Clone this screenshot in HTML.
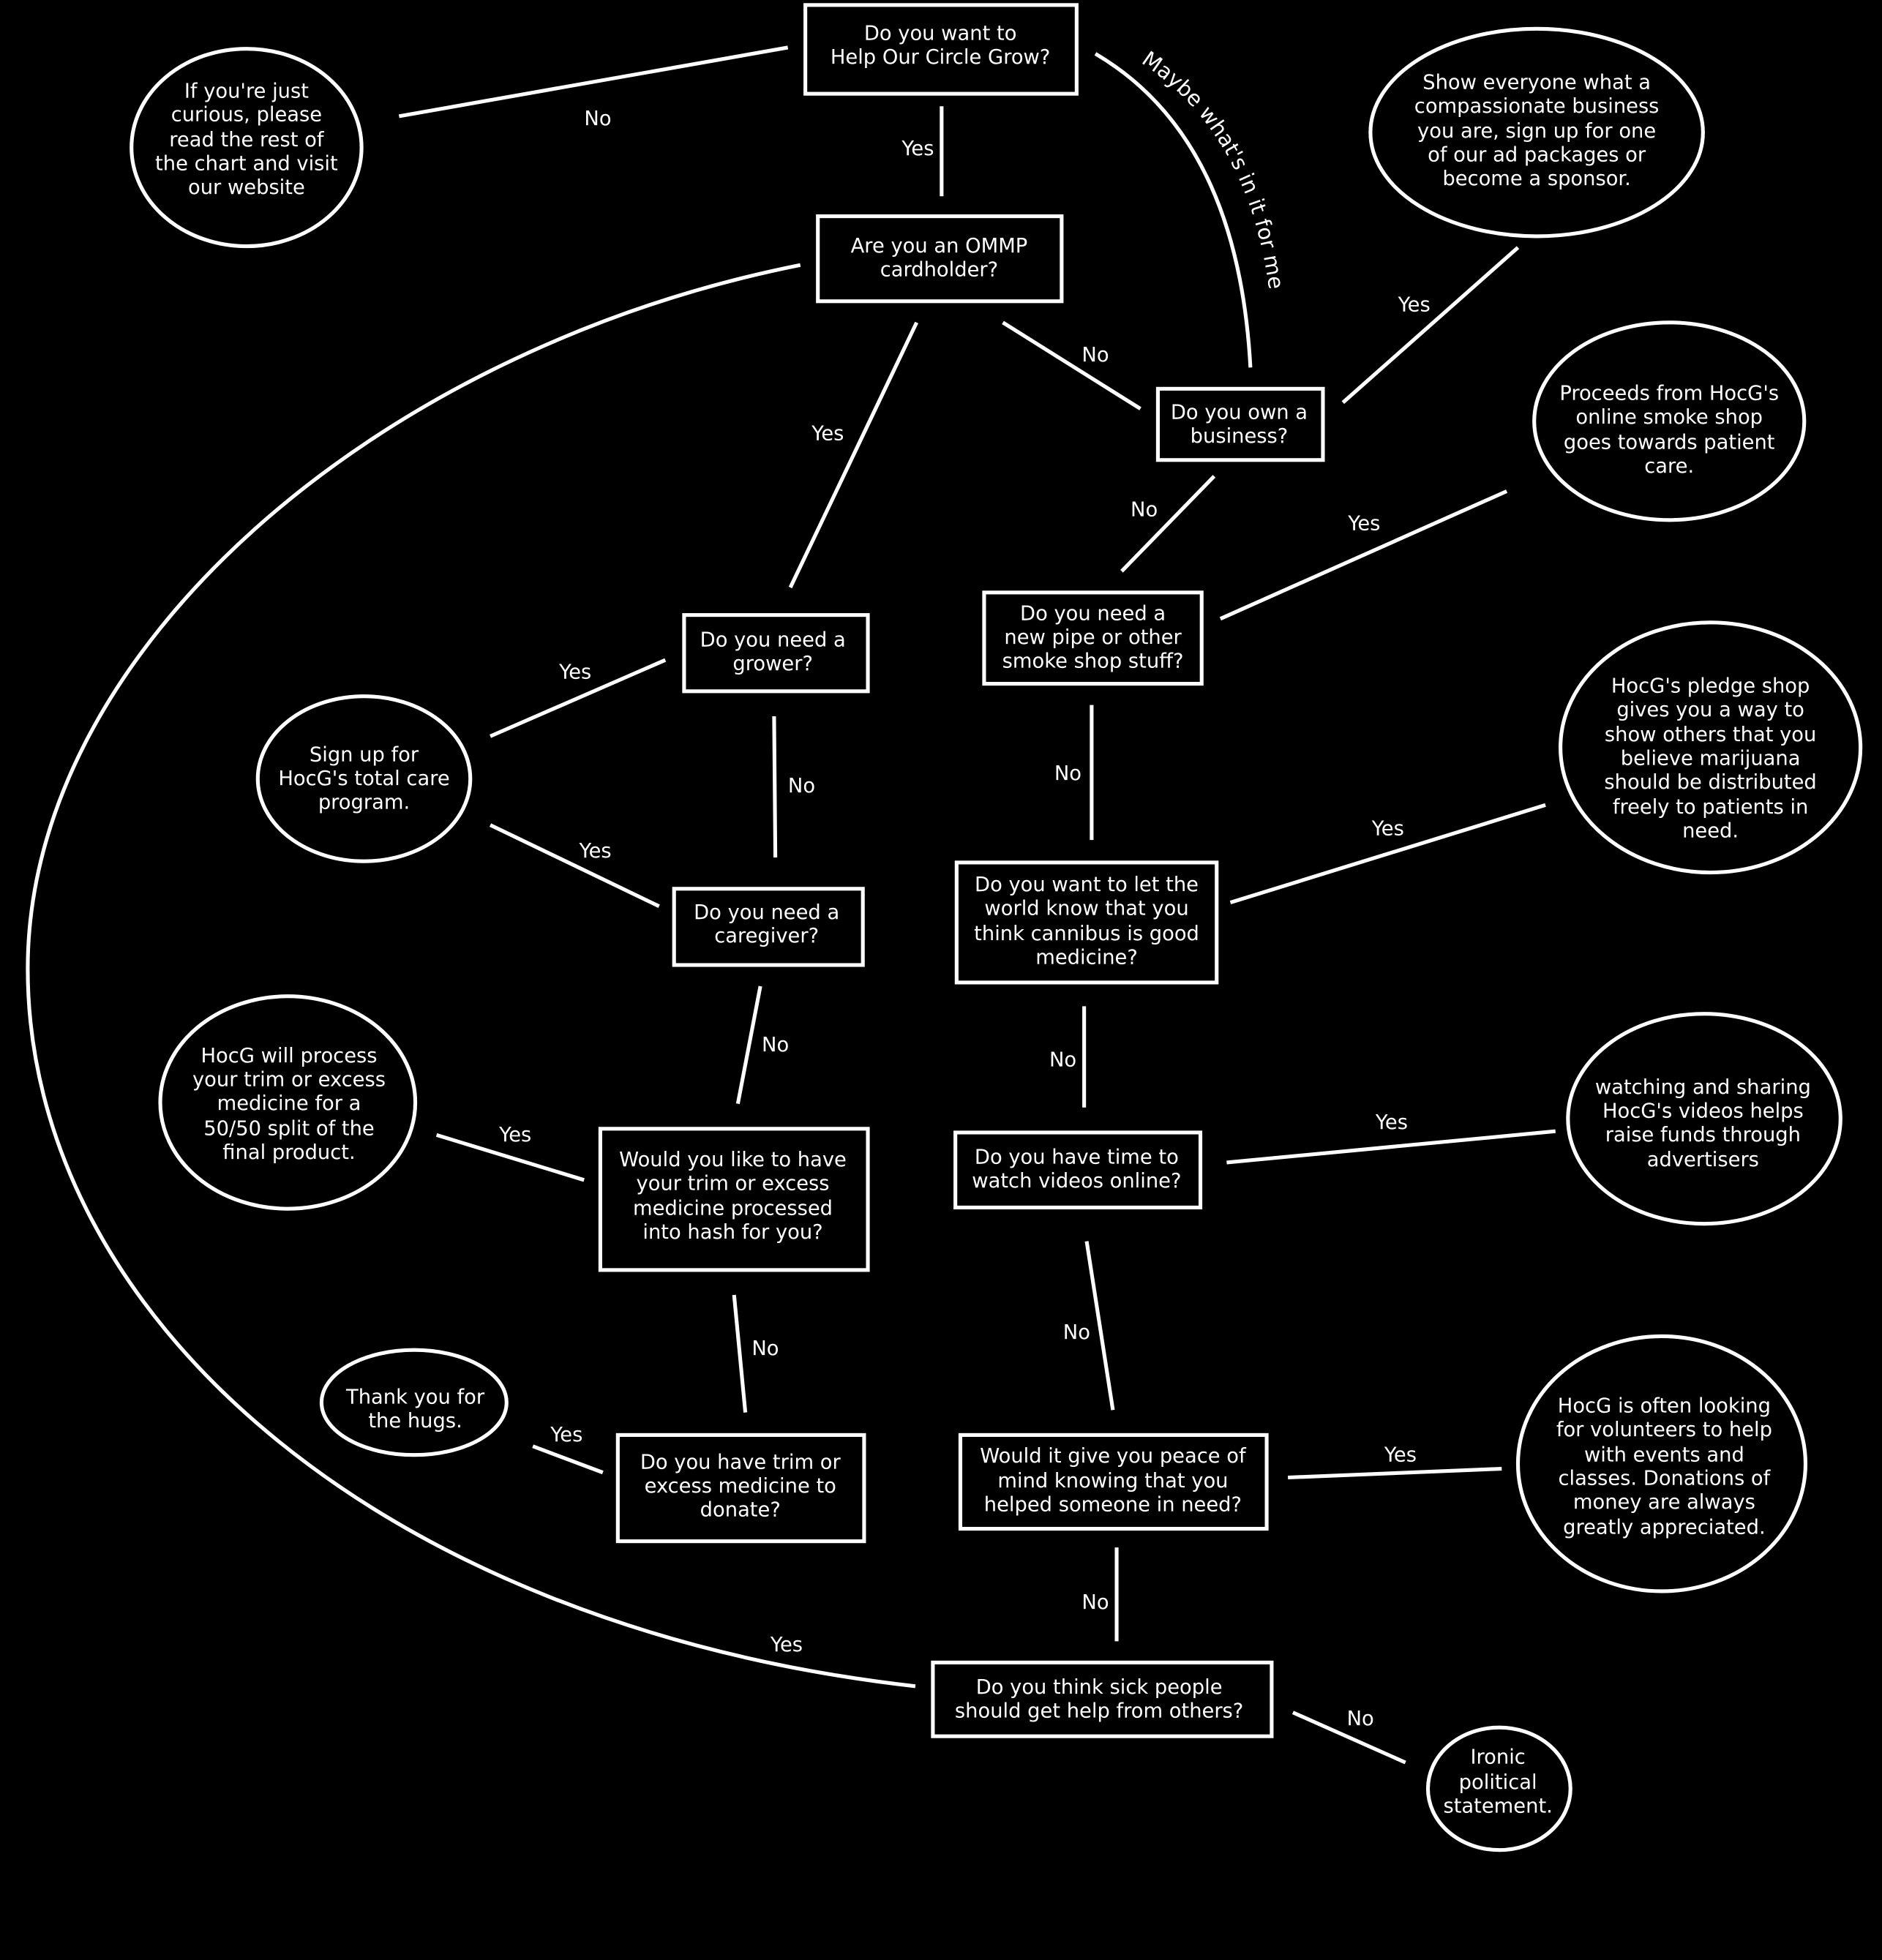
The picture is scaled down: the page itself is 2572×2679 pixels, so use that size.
<!DOCTYPE html>
<html><head><meta charset="utf-8"><style>
html,body{margin:0;padding:0;background:#000;}
svg{display:block;}
text{font-family:"DejaVu Sans","Liberation Sans",sans-serif;font-size:16px;fill:#fff;}
</style></head><body>
<svg width="2572" height="2679" viewBox="0 0 1505 1568" xmlns="http://www.w3.org/2000/svg">
<rect x="0" y="0" width="1505" height="1568" fill="#000"/>
<path id="maybetext" d="M912,50 Q1008,112 1018,262" fill="none" stroke="none"/>
<g stroke="#fff" stroke-width="3" fill="none">
<rect x="644" y="4" width="217" height="71"/>
<rect x="654" y="173" width="195" height="68"/>
<rect x="926" y="311" width="132" height="57"/>
<rect x="547" y="492" width="147" height="61"/>
<rect x="787" y="474" width="174" height="73"/>
<rect x="539" y="711" width="151" height="61"/>
<rect x="765" y="690" width="208" height="96"/>
<rect x="480" y="903" width="214" height="113"/>
<rect x="764" y="906" width="196" height="60"/>
<rect x="494" y="1148" width="197" height="85"/>
<rect x="768" y="1148" width="245" height="75"/>
<rect x="746" y="1330" width="271" height="59"/>
<ellipse cx="197" cy="118" rx="92" ry="79"/>
<ellipse cx="1229" cy="106" rx="133" ry="83"/>
<ellipse cx="1335" cy="337" rx="108" ry="79"/>
<ellipse cx="291" cy="623" rx="85" ry="66"/>
<ellipse cx="1368" cy="598" rx="120" ry="100"/>
<ellipse cx="230" cy="882" rx="102" ry="85"/>
<ellipse cx="1363" cy="895" rx="109" ry="84"/>
<ellipse cx="331" cy="1122" rx="74" ry="42"/>
<ellipse cx="1329" cy="1171" rx="115" ry="102"/>
<ellipse cx="1199" cy="1431" rx="57" ry="49"/>
<line x1="630" y1="38" x2="319" y2="93"/>
<line x1="753" y1="85" x2="753" y2="157"/>
<path d="M876,43 Q990,110 1000,294"/>
<line x1="733" y1="258" x2="632" y2="470"/>
<line x1="802" y1="258" x2="912" y2="327"/>
<line x1="1074" y1="322" x2="1214" y2="198"/>
<line x1="971" y1="381" x2="897" y2="457"/>
<line x1="976" y1="495" x2="1205" y2="393"/>
<line x1="532" y1="528" x2="392" y2="589"/>
<line x1="619" y1="573" x2="620" y2="686"/>
<line x1="392" y1="660" x2="527" y2="725"/>
<line x1="873" y1="564" x2="873" y2="672"/>
<line x1="984" y1="722" x2="1236" y2="644"/>
<line x1="608" y1="789" x2="590" y2="883"/>
<line x1="867" y1="805" x2="867" y2="886"/>
<line x1="467" y1="944" x2="349" y2="908"/>
<line x1="981" y1="930" x2="1244" y2="905"/>
<line x1="587" y1="1036" x2="596" y2="1130"/>
<line x1="869" y1="993" x2="890" y2="1128"/>
<line x1="482" y1="1178" x2="426" y2="1157"/>
<line x1="1030" y1="1182" x2="1201" y2="1175"/>
<line x1="893" y1="1238" x2="893" y2="1313"/>
<path d="M640,212 C300,280 22,520 22,775 C22,1050 300,1300 732,1349"/>
<line x1="1034" y1="1370" x2="1124" y2="1410"/>
</g>
<g text-anchor="middle">
<text x="752" y="32">Do you want to</text><text x="752" y="51">Help Our Circle Grow?</text>
<text x="751" y="202">Are you an OMMP</text><text x="751" y="221">cardholder?</text>
<text x="991" y="335">Do you own a</text><text x="991" y="354">business?</text>
<text x="618" y="517">Do you need a</text><text x="618" y="536">grower?</text>
<text x="874" y="496">Do you need a</text><text x="874" y="515">new pipe or other</text><text x="874" y="534">smoke shop stuff?</text>
<text x="613" y="735">Do you need a</text><text x="613" y="754">caregiver?</text>
<text x="869" y="713">Do you want to let the</text><text x="869" y="732">world know that you</text><text x="869" y="752">think cannibus is good</text><text x="869" y="771">medicine?</text>
<text x="586" y="933">Would you like to have</text><text x="586" y="952">your trim or excess</text><text x="586" y="972">medicine processed</text><text x="586" y="991">into hash for you?</text>
<text x="861" y="931">Do you have time to</text><text x="861" y="950">watch videos online?</text>
<text x="592" y="1175">Do you have trim or</text><text x="592" y="1194">excess medicine to</text><text x="592" y="1213">donate?</text>
<text x="890" y="1170">Would it give you peace of</text><text x="890" y="1190">mind knowing that you</text><text x="890" y="1209">helped someone in need?</text>
<text x="879" y="1355">Do you think sick people</text><text x="879" y="1374">should get help from others?</text>
<text x="197" y="78">If you're just</text><text x="197" y="97">curious, please</text><text x="197" y="117">read the rest of</text><text x="197" y="136">the chart and visit</text><text x="197" y="155">our website</text>
<text x="1229" y="71">Show everyone what a</text><text x="1229" y="90">compassionate business</text><text x="1229" y="110">you are, sign up for one</text><text x="1229" y="129">of our ad packages or</text><text x="1229" y="148">become a sponsor.</text>
<text x="1335" y="320">Proceeds from HocG's</text><text x="1335" y="339">online smoke shop</text><text x="1335" y="359">goes towards patient</text><text x="1335" y="378">care.</text>
<text x="291" y="609">Sign up for</text><text x="291" y="628">HocG's total care</text><text x="291" y="647">program.</text>
<text x="1368" y="554">HocG's pledge shop</text><text x="1368" y="573">gives you a way to</text><text x="1368" y="593">show others that you</text><text x="1368" y="612">believe marijuana</text><text x="1368" y="631">should be distributed</text><text x="1368" y="651">freely to patients in</text><text x="1368" y="670">need.</text>
<text x="231" y="850">HocG will process</text><text x="231" y="869">your trim or excess</text><text x="231" y="888">medicine for a</text><text x="231" y="908">50/50 split of the</text><text x="231" y="927">final product.</text>
<text x="1362" y="875">watching and sharing</text><text x="1362" y="894">HocG's videos helps</text><text x="1362" y="913">raise funds through</text><text x="1362" y="933">advertisers</text>
<text x="332" y="1123">Thank you for</text><text x="332" y="1142">the hugs.</text>
<text x="1331" y="1130">HocG is often looking</text><text x="1331" y="1149">for volunteers to help</text><text x="1331" y="1169">with events and</text><text x="1331" y="1188">classes. Donations of</text><text x="1331" y="1207">money are always</text><text x="1331" y="1227">greatly appreciated.</text>
<text x="1198" y="1411">Ironic</text><text x="1198" y="1431">political</text><text x="1198" y="1450">statement.</text>
<text x="478" y="100">No</text>
<text x="734" y="124">Yes</text>
<text x="662" y="352">Yes</text>
<text x="876" y="289">No</text>
<text x="1131" y="249">Yes</text>
<text x="915" y="413">No</text>
<text x="1091" y="424">Yes</text>
<text x="460" y="543">Yes</text>
<text x="641" y="634">No</text>
<text x="476" y="686">Yes</text>
<text x="854" y="624">No</text>
<text x="1110" y="668">Yes</text>
<text x="620" y="841">No</text>
<text x="850" y="853">No</text>
<text x="412" y="913">Yes</text>
<text x="1113" y="903">Yes</text>
<text x="612" y="1084">No</text>
<text x="861" y="1071">No</text>
<text x="453" y="1153">Yes</text>
<text x="1120" y="1169">Yes</text>
<text x="876" y="1287">No</text>
<text x="629" y="1321">Yes</text>
<text x="1088" y="1380">No</text>
</g>
<text style="font-size:17px"><textPath href="#maybetext" startOffset="0">Maybe what's in it for me</textPath></text>
</svg>
</body></html>
